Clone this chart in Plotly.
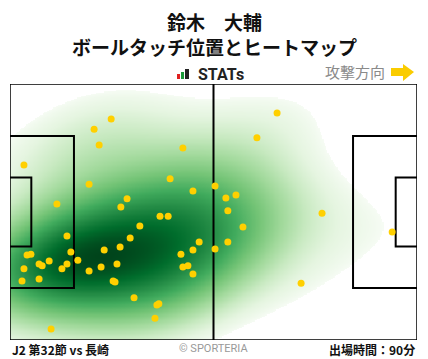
import numpy as np
import plotly.graph_objects as go

# ---- data (pitch metres, 105 x 68, attacking left -> right) ----
touch_x = [26.1, 21.7, 23.0, 44.6, 3.6, 20.4, 41.3, 47.2, 30.2, 28.6, 12.1, 52.9,
           38.7, 40.8, 33.5, 14.7, 31.0, 15.7, 4.4, 5.4, 24.3, 28.4, 17.5, 10.1,
           7.5, 8.3, 14.7, 13.4, 3.6, 27.6, 23.5, 20.4, 3.1, 7.5, 26.6, 27.1,
           44.1, 47.2, 48.8, 44.6, 45.9, 47.2, 52.9, 32.0, 37.9, 38.4, 37.4, 10.6,
           68.9, 63.7, 55.7, 58.3, 56.2, 80.5, 60.1, 56.2, 98.6, 75.1]
touch_y = [58.7, 56.0, 51.8, 51.0, 46.5, 41.4, 42.8, 39.6, 37.5, 35.3, 36.1, 40.9,
           32.9, 32.9, 30.3, 27.6, 27.1, 23.4, 22.6, 22.8, 23.9, 24.7, 21.2, 21.0,
           20.2, 19.7, 20.2, 18.9, 18.9, 20.2, 19.4, 18.3, 15.7, 16.2, 15.7, 15.4,
           22.8, 23.9, 26.0, 19.4, 19.7, 17.5, 24.2, 11.2, 9.3, 9.6, 5.8, 2.9,
           60.3, 53.7, 37.7, 38.5, 34.3, 33.7, 30.0, 26.0, 28.7, 15.1]

title_name = "鈴木　大輔"
title_sub = "ボールタッチ位置とヒートマップ"
footer_left = "J2 第32節 vs 長崎"
footer_right = "出場時間：90分"
credit = "© SPORTERIA"
direction_label = "攻撃方向"

PITCH_L, PITCH_W = 105.0, 68.0
PEN_D, PEN_W = 16.5, 40.32
GOAL_D, GOAL_W = 5.5, 18.32

W, H = 428, 359
def px(x): return x / W
def py(y): return 1 - y / H

# ---- KDE (gaussian, widened Scott bandwidth, full covariance) ----
pts = np.vstack([touch_x, touch_y])
n = pts.shape[1]
fac = n ** (-1.0 / 6.0) * 1.4
cov = np.cov(pts) * fac ** 2
inv = np.linalg.inv(cov)
gx = np.linspace(0, PITCH_L, 320)
gy = np.linspace(0, PITCH_W, 210)
X, Y = np.meshgrid(gx, gy)
dx = X[..., None] - pts[0]
dy = Y[..., None] - pts[1]
q = inv[0, 0] * dx * dx + 2 * inv[0, 1] * dx * dy + inv[1, 1] * dy * dy
dens = np.exp(-0.5 * q).sum(-1)

flat = dens.ravel()
order = np.argsort(flat)
cum = np.cumsum(flat[order])
cum /= cum[-1]
prop = np.empty_like(flat)
prop[order] = cum
prop = prop.reshape(dens.shape)
thresh = 0.04
z = np.where(prop < thresh, np.nan, ((prop - thresh) / (1 - thresh)) ** 0.7)

greens = [[0.0, "#f7fcf5"], [0.125, "#e5f5e0"], [0.25, "#c7e9c0"], [0.375, "#a1d99b"],
          [0.5, "#74c476"], [0.625, "#41ab5d"], [0.75, "#238b45"], [0.875, "#006d2c"],
          [1.0, "#00441b"]]

fig = go.Figure()
fig.add_trace(go.Heatmap(x=gx, y=gy, z=z, colorscale=greens, zmin=0, zmax=1,
                         showscale=False, hoverinfo="skip", zsmooth="best"))

# pitch lines
lx, ly = [], []
def seg(xs, ys):
    lx.extend(xs + [None]); ly.extend(ys + [None])
c = PITCH_W / 2
seg([PITCH_L / 2, PITCH_L / 2], [0, PITCH_W])
for side in (0, 1):
    if side == 0:
        x0, x1, x2 = 0, PEN_D, GOAL_D
    else:
        x0, x1, x2 = PITCH_L, PITCH_L - PEN_D, PITCH_L - GOAL_D
    seg([x0, x1, x1, x0], [c - PEN_W / 2, c - PEN_W / 2, c + PEN_W / 2, c + PEN_W / 2])
    seg([x0, x2, x2, x0], [c - GOAL_W / 2, c - GOAL_W / 2, c + GOAL_W / 2, c + GOAL_W / 2])
fig.add_trace(go.Scatter(x=lx, y=ly, mode="lines", line=dict(color="black", width=2),
                         hoverinfo="skip", showlegend=False))
fig.add_trace(go.Scatter(x=[0, PITCH_L, PITCH_L, 0, 0], y=[0, 0, PITCH_W, PITCH_W, 0],
                         mode="lines", line=dict(color="black", width=1.5),
                         hoverinfo="skip", showlegend=False, cliponaxis=False))

fig.add_trace(go.Scatter(x=touch_x, y=touch_y, mode="markers",
                         marker=dict(color="#FFD000", size=7, line=dict(width=0)),
                         showlegend=False))

fig.update_layout(
    width=W, height=H, margin=dict(l=0, r=0, t=0, b=0),
    paper_bgcolor="white", plot_bgcolor="white", showlegend=False,
    xaxis=dict(range=[0, PITCH_L], domain=[px(10), px(417)], visible=False, fixedrange=True),
    yaxis=dict(range=[0, PITCH_W], domain=[py(340), py(84)], visible=False, fixedrange=True),
    font=dict(family="Noto Sans CJK JP"),
)

ann = []
ann.append(dict(text=f"<b>{title_name}</b>", x=px(214), y=py(22), xref="paper", yref="paper",
                showarrow=False, font=dict(size=19, color="#111"), xanchor="center", yanchor="middle"))
ann.append(dict(text=f"<b>{title_sub}</b>", x=px(214), y=py(46), xref="paper", yref="paper",
                showarrow=False, font=dict(size=19, color="#111"), xanchor="center", yanchor="middle"))
ann.append(dict(text="<b>STATs</b>", x=px(196), y=py(74), xref="paper", yref="paper",
                showarrow=False, font=dict(size=16, color="#222", family="Roboto"),
                xanchor="left", yanchor="middle"))
ann.append(dict(text=direction_label, x=px(355), y=py(72), xref="paper", yref="paper",
                showarrow=False, font=dict(size=15, color="#8a8a8a"), xanchor="center", yanchor="middle"))
ann.append(dict(text=f"<b>{footer_left}</b>", x=px(10), y=py(349), xref="paper", yref="paper",
                showarrow=False, font=dict(size=12, color="#111"), xanchor="left", yanchor="middle"))
ann.append(dict(text=credit, x=px(213), y=py(348), xref="paper", yref="paper",
                showarrow=False, font=dict(size=11, color="#999", family="Roboto"),
                xanchor="center", yanchor="middle"))
ann.append(dict(text=f"<b>{footer_right}</b>", x=px(417), y=py(349), xref="paper", yref="paper",
                showarrow=False, font=dict(size=12, color="#111"), xanchor="right", yanchor="middle"))
fig.update_layout(annotations=ann)

shapes = []
# STATs icon bars
for (x0, x1, y0, color) in [(177, 180, 74, "#e02020"), (181, 184, 72, "#1a9a3a"), (185, 189, 69, "#222")]:
    shapes.append(dict(type="rect", xref="paper", yref="paper", x0=px(x0), x1=px(x1),
                       y0=py(79), y1=py(y0), fillcolor=color, line=dict(width=0)))
# direction arrow
pts_arrow = [(391, 68), (403, 68), (403, 64), (414, 72), (403, 81), (403, 76), (391, 76)]
path = "M " + " L ".join(f"{px(a):.5f},{py(b):.5f}" for a, b in pts_arrow) + " Z"
shapes.append(dict(type="path", xref="paper", yref="paper", path=path,
                   fillcolor="#FACC00", line=dict(width=0)))
fig.update_layout(shapes=shapes)

fig.write_html("out.html", config={"displayModeBar": False},
               post_script="document.body.style.margin='0';document.body.style.padding='0';")
